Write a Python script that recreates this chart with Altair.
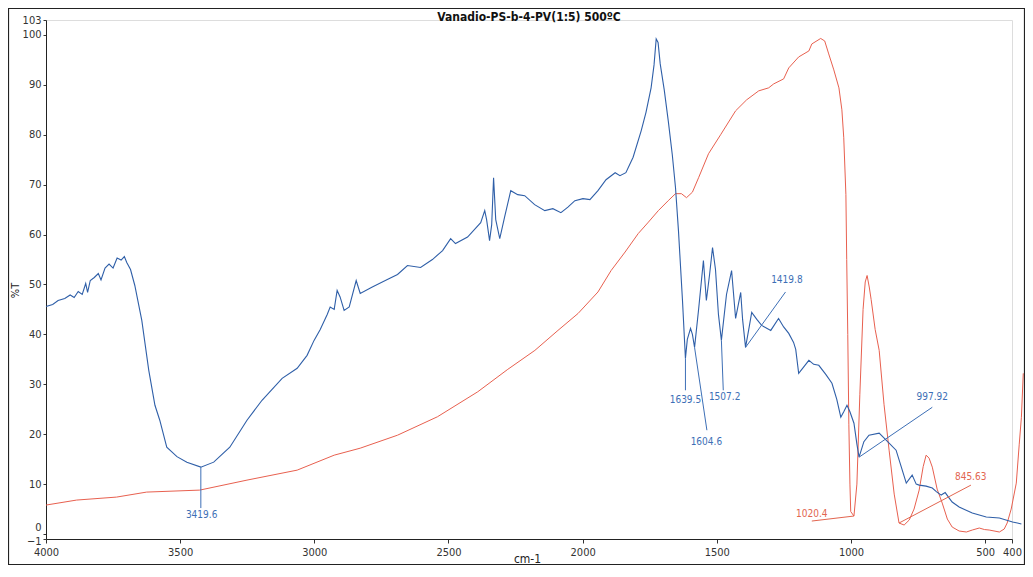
import altair as alt
import pandas as pd

chart_title = "Vanadio-PS-b-4-PV(1:5) 500ºC"
x_title = "cm-1"
y_title = "%T"
x_ticks = [4000, 3500, 3000, 2500, 2000, 1500, 1000, 500, 400]
y_ticks = [-1, 0, 10, 20, 30, 40, 50, 60, 70, 80, 90, 100, 103]

# Blue spectrum (wavenumber, %T)
blue_wn = [4000, 3975, 3955, 3930, 3910, 3895, 3880, 3865, 3852, 3845,
           3835, 3820, 3805, 3795, 3780, 3765, 3750, 3735, 3720, 3708,
           3699, 3685, 3669, 3643, 3617, 3594, 3576, 3550, 3512, 3475,
           3423, 3375, 3315, 3251, 3195, 3120, 3064, 3027, 3001, 2978,
           2952, 2941, 2926, 2915, 2904, 2889, 2870, 2844, 2829, 2784,
           2728, 2690, 2653, 2604, 2560, 2522, 2492, 2474, 2429, 2380,
           2365, 2358, 2347, 2339, 2332, 2324, 2309, 2291, 2268, 2242,
           2216, 2179, 2141, 2111, 2081, 2055, 2029, 1999, 1973, 1943,
           1913, 1879, 1861, 1839, 1812, 1782, 1764, 1745, 1734, 1726,
           1719, 1711, 1696, 1681, 1666, 1654, 1643, 1628, 1617, 1610,
           1598, 1591, 1583, 1568, 1550, 1539, 1527, 1516, 1505, 1494,
           1483, 1464, 1445, 1430, 1411, 1404, 1393, 1381, 1370, 1351,
           1333, 1299, 1270, 1251, 1232, 1214, 1206, 1195, 1176, 1157,
           1139, 1120, 1094, 1071, 1053, 1038, 1027, 1015, 1004, 989,
           978, 970, 952, 933, 895, 869, 832, 813, 794, 772,
           757, 746, 720, 697, 682, 664, 649, 634, 623, 597,
           548, 496, 447, 398, 380, 365]
blue_t = [45.6, 46.0, 46.8, 47.2, 47.9, 47.4, 48.6, 48.0, 50.2, 48.4,
          50.8, 51.4, 52.2, 50.9, 53.3, 54.1, 53.3, 55.3, 54.9, 55.6,
          54.4, 53.0, 49.8, 42.8, 32.8, 25.8, 22.8, 17.4, 15.5, 14.4,
          13.4, 14.4, 17.4, 22.8, 26.8, 31.2, 33.2, 35.8, 38.8, 41.0,
          44.0, 45.5, 45.0, 48.8, 47.5, 44.8, 45.5, 50.8, 48.2, 49.5,
          51.0, 52.0, 53.8, 53.4, 55.0, 56.8, 59.2, 58.2, 59.5, 62.4,
          64.8, 63.0, 58.8, 62.0, 71.4, 63.0, 59.2, 63.5, 68.8, 68.0,
          67.8, 66.0, 64.8, 65.2, 64.4, 65.5, 66.8, 67.2, 67.0, 68.8,
          71.0, 72.4, 71.8, 72.4, 75.5, 80.8, 84.5, 89.4, 94.0, 99.2,
          98.5, 94.2, 89.0, 82.8, 76.0, 69.4, 60.8, 46.8, 35.2, 39.0,
          41.2, 40.0, 37.4, 45.0, 54.8, 46.8, 52.0, 57.4, 53.0, 44.0,
          38.8, 48.0, 52.8, 43.2, 48.4, 43.0, 37.4, 41.0, 44.4, 43.0,
          41.8, 40.8, 43.2, 41.5, 40.2, 38.4, 37.0, 32.2, 33.5, 34.8,
          34.0, 33.8, 32.0, 30.2, 27.0, 23.4, 24.5, 25.8, 24.5, 22.2,
          18.0, 15.4, 18.5, 19.8, 20.2, 18.8, 16.8, 13.5, 10.2, 11.8,
          10.0, 9.8, 9.6, 9.2, 8.5, 7.8, 8.3, 7.2, 6.4, 5.4,
          4.2, 3.4, 3.2, 2.4, 2.2, 2.0]

# Red spectrum (wavenumber, %T)
red_wn = [4000, 3886, 3737, 3625, 3427, 3251, 3064, 2926, 2829, 2690,
          2541, 2391, 2279, 2178, 2092, 2017, 1943, 1894, 1842, 1793,
          1755, 1718, 1681, 1654, 1632, 1613, 1591, 1568, 1531, 1486,
          1430, 1389, 1344, 1307, 1288, 1251, 1232, 1195, 1157, 1146,
          1113, 1098, 1083, 1064, 1045, 1034, 1027, 1019, 1016, 1012,
          1008, 1004, 1001, 989, 978, 967, 955, 947, 940, 932,
          925, 910, 895, 877, 858, 839, 821, 802, 783, 765,
          746, 731, 720, 709, 697, 679, 660, 641, 623, 597,
          570, 548, 522, 503, 485, 447, 429, 418, 403, 384,
          373, 365, 358]
red_t = [5.8, 6.8, 7.4, 8.4, 8.8, 10.8, 12.8, 15.8, 17.2, 19.8,
         23.5, 28.5, 33.0, 36.8, 40.8, 44.2, 48.5, 52.8, 56.5, 60.2,
         62.5, 64.8, 66.8, 68.2, 68.2, 67.4, 68.5, 71.4, 76.2, 80.0,
         84.8, 87.0, 88.8, 89.4, 90.2, 91.2, 93.4, 95.6, 96.8, 98.2,
         99.3, 98.8, 96.2, 93.0, 89.4, 85.0, 79.4, 68.0, 55.0, 40.0,
         22.0, 10.0, 4.5, 3.6, 10.0, 28.0, 45.0, 50.5, 51.8, 49.5,
         47.0, 41.0, 36.8, 26.0, 16.8, 8.0, 2.2, 1.8, 2.8, 5.0,
         8.8, 13.5, 15.8, 15.2, 13.4, 9.0, 6.2, 3.0, 1.4, 0.6,
         0.4, 0.8, 1.2, 0.9, 0.8, 0.4, 1.0, 2.2, 5.0, 10.2,
         18.0, 23.4, 32.2]

# Peak annotations
ann_label = ["3419.6", "1639.5", "1604.6", "1507.2", "1419.8", "997.92", "1020.4", "845.63"]
ann_series = ["blue", "blue", "blue", "blue", "blue", "blue", "red", "red"]
ann_wn = [3423, 1617, 1583, 1483, 1393, 970, 989, 821]
ann_t = [13.4, 35.2, 37.4, 38.8, 37.4, 15.4, 3.6, 2.2]
ann_end_wn = [3423, 1617, 1537, 1476, 1244, 697, 1146, 553]
ann_end_t = [5.2, 28.8, 20.8, 28.8, 48.5, 25.4, 2.6, 9.8]
ann_text_wn = [3420, 1617, 1539, 1471, 1239, 697, 1146, 554]
ann_text_t = [3.8, 26.8, 18.4, 27.4, 50.8, 27.4, 4.0, 11.4]

blue_color = "#2f5fa8"
red_color = "#e8604f"
blue_text = "#3d6fb6"
red_text = "#e2654f"
narrow = "Liberation Sans Narrow, DejaVu Sans Condensed, Arial Narrow, sans-serif"

blue_df = pd.DataFrame({"wn": blue_wn, "t": blue_t, "i": range(len(blue_wn))})
red_df = pd.DataFrame({"wn": red_wn, "t": red_t, "i": range(len(red_wn))})
ann_df = pd.DataFrame({
    "label": ann_label, "series": ann_series,
    "wn": ann_wn, "t": ann_t, "wn2": ann_end_wn, "t2": ann_end_t,
    "twn": ann_text_wn, "tt": ann_text_t,
})
title_df = pd.DataFrame({"title": [chart_title]})

x_scale = alt.Scale(domain=[4000, 400], nice=False, zero=False)
y_scale = alt.Scale(domain=[-1, 103], nice=False, zero=False)

x_enc = alt.X(
    "wn:Q", scale=x_scale,
    axis=alt.Axis(
        values=x_ticks, format="d", title=x_title, grid=False,
        labelFont=narrow, labelFontSize=11, labelColor="#333",
        tickSize=4, tickColor="#333", domainColor="#222", labelPadding=3,
        labelOverlap=False, labelFlush=False,
        titleFont=narrow, titleFontSize=12, titleFontWeight="normal", titleColor="#222",
        titleX=481, titleY=19, titleAlign="center", titleBaseline="middle",
    ),
)
y_enc = alt.Y(
    "t:Q", scale=y_scale,
    axis=alt.Axis(
        values=y_ticks, format="d", title=y_title, grid=False,
        labelFont=narrow, labelFontSize=11, labelColor="#333",
        labelBaseline="middle",
        labelOffset={"condition": [
            {"test": "datum.value == 0", "value": -7},
            {"test": "datum.value == -1", "value": 2},
        ], "value": 0},
        tickSize=3, tickColor="#333", domainColor="#222", labelPadding=2,
        labelOverlap=False, labelFlush=False,
        titleFont=narrow, titleFontSize=11, titleFontWeight="normal", titleColor="#222",
        titleX=-31, titleY=270, titleAlign="center", titleBaseline="middle", titleAngle=270,
    ),
)

red_line = alt.Chart(red_df).mark_line(color=red_color, strokeWidth=1, clip=False).encode(
    x=x_enc, y=y_enc, order="i:Q"
)
blue_line = alt.Chart(blue_df).mark_line(color=blue_color, strokeWidth=1.1, clip=False).encode(
    x="wn:Q", y="t:Q", order="i:Q"
)

color_scale = alt.Scale(domain=["blue", "red"], range=[blue_text, red_text])

leaders = alt.Chart(ann_df).mark_rule(strokeWidth=1).encode(
    x="wn:Q", y="t:Q", x2="wn2:Q", y2="t2:Q",
    color=alt.Color("series:N", scale=color_scale, legend=None),
)
labels = alt.Chart(ann_df).mark_text(font=narrow, fontSize=10, align="center", baseline="middle").encode(
    x="twn:Q", y="tt:Q", text="label:N",
    color=alt.Color("series:N", scale=color_scale, legend=None),
)

frame = alt.Chart(pd.DataFrame({"a": [0]})).mark_rect(
    filled=False, stroke="#222", strokeWidth=1.2
).encode(
    x=alt.value(-37.5), x2=alt.value(978.5), y=alt.value(-11.5), y2=alt.value(544.5)
)

title_mark = alt.Chart(title_df).mark_text(
    font=narrow, fontSize=12, fontWeight="bold", color="#111",
    align="center", baseline="middle",
).encode(
    x=alt.value(483), y=alt.value(-3), text="title:N"
)

chart = alt.layer(red_line, blue_line, leaders, labels, frame, title_mark).properties(
    width=966, height=519,
    autosize=alt.AutoSizeParams(type="none"),
    padding={"left": 38, "top": 12, "right": 13, "bottom": 26},
).configure_view(stroke=None).configure(background="white")

chart.save("out.html", embed_options={"renderer": "svg", "actions": False})
